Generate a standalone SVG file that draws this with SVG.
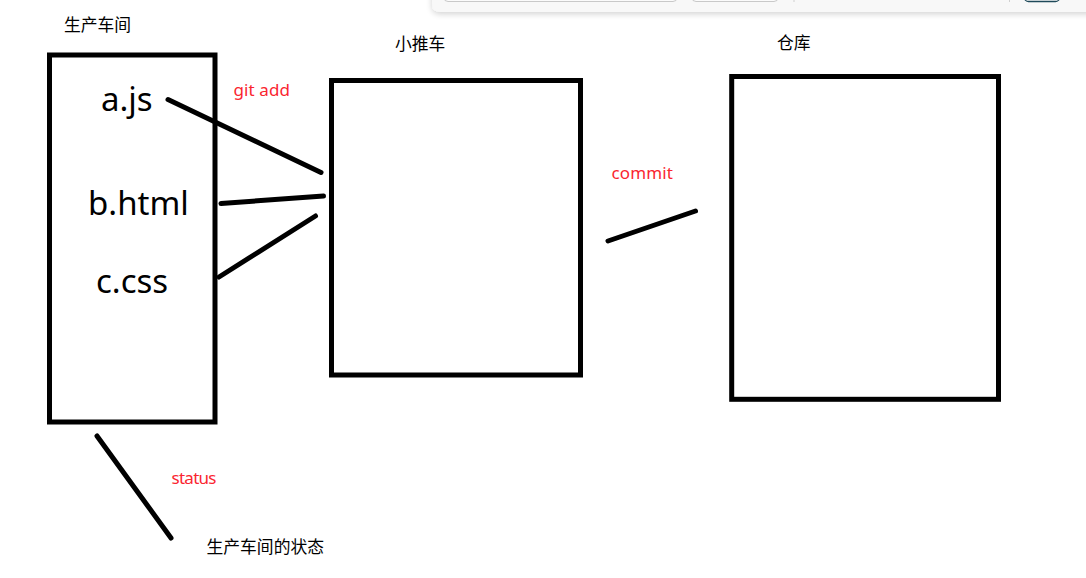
<svg xmlns="http://www.w3.org/2000/svg" width="1086" height="578" viewBox="0 0 1086 578">
  <style>
    .box { fill: none; stroke: #000; stroke-width: 5; }
    .conn { stroke: #000; stroke-width: 5; stroke-linecap: round; fill: none; }
    .cn { font-family: "Microsoft YaHei", "Noto Sans CJK SC", "Noto Sans", sans-serif; font-size: 16.8px; fill: #000; }
    .file { font-family: "Noto Sans", "Open Sans", sans-serif; font-size: 33px; fill: #000; }
    .red { font-family: "Noto Sans", "Open Sans", sans-serif; font-size: 17px; fill: #fa2530; }
  </style>
  <defs>
    <filter id="shadow" x="-5%" y="-100%" width="110%" height="400%">
      <feGaussianBlur in="SourceAlpha" stdDeviation="3"/>
      <feOffset dy="2" result="b"/>
      <feComponentTransfer><feFuncA type="linear" slope="0.18"/></feComponentTransfer>
      <feMerge><feMergeNode/><feMergeNode in="SourceGraphic"/></feMerge>
    </filter>
  </defs>
  <rect width="1086" height="578" fill="#fff"/>

  <g id="toolbar">
    <path d="M432,-10 H1096 V12 H440 Q432,12 432,4 Z" fill="#f8f8f8" filter="url(#shadow)"/>
    <rect x="444" y="-10" width="233" height="11.5" rx="4" fill="#fbfbfb" stroke="#c9c9c9" stroke-width="1"/>
    <rect x="692" y="-10" width="86" height="11.5" rx="4" fill="#fbfbfb" stroke="#c9c9c9" stroke-width="1"/>
    <line x1="794" y1="0" x2="794" y2="2" stroke="#d0d0d0" stroke-width="1"/>
    <line x1="1009.5" y1="0" x2="1009.5" y2="2" stroke="#d0d0d0" stroke-width="1"/>
    <rect x="1024.5" y="-10" width="35" height="11.5" rx="4" fill="#fbfbfb" stroke="#1f4a5a" stroke-width="1.3"/>
  </g>

  <g id="workspace">
    <rect class="box" x="49.5" y="55" width="165.5" height="367"/>
    <text class="cn" x="64" y="31">生产车间</text>
    <text class="file" x="101" y="111">a.js</text>
    <text class="file" x="88" y="215">b.html</text>
    <text class="file" x="96" y="293">c.css</text>
  </g>

  <g id="stage">
    <rect class="box" x="331.5" y="80.5" width="249" height="294.5"/>
    <text class="cn" x="395" y="50">小推车</text>
  </g>

  <g id="repo">
    <rect class="box" x="731.7" y="76.5" width="266.8" height="322.8"/>
    <text class="cn" x="777" y="48.5">仓库</text>
  </g>

  <g id="status-note">
    <text class="cn" x="206.5" y="553">生产车间的状态</text>
  </g>

  <g id="connectors">
    <line class="conn" x1="168" y1="99.5" x2="321" y2="172.5"/>
    <line class="conn" x1="221" y1="203.5" x2="323.5" y2="196"/>
    <line class="conn" x1="219" y1="277" x2="315.5" y2="216"/>
    <line class="conn" x1="608" y1="241" x2="695.5" y2="211"/>
    <line class="conn" x1="97" y1="436" x2="171" y2="538"/>
    <text class="red" x="233.5" y="96" textLength="56.5">git add</text>
    <text class="red" x="611.5" y="179" textLength="61.5">commit</text>
    <text class="red" x="171.5" y="484" textLength="45">status</text>
  </g>
</svg>
